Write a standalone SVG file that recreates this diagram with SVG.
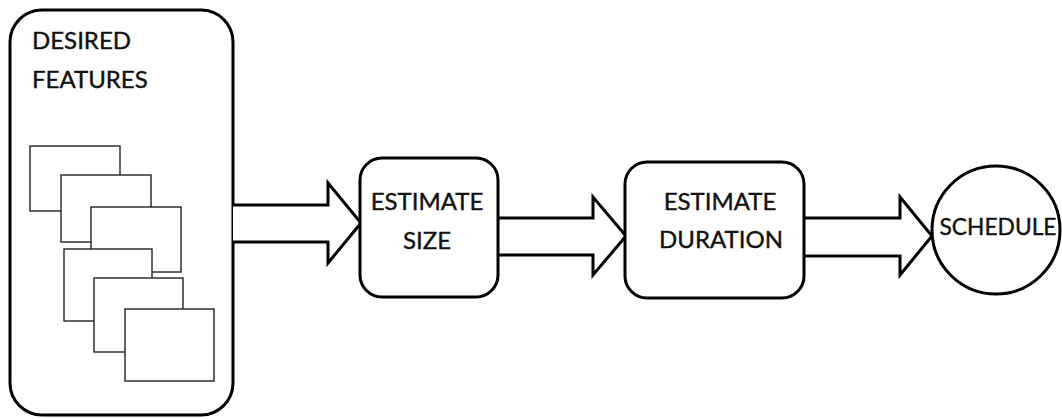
<svg xmlns="http://www.w3.org/2000/svg" width="1062" height="419" viewBox="0 0 1062 419">
<style>
.box{fill:#fff;stroke:#000;stroke-width:3}
.card{fill:#fff;stroke:#222;stroke-width:1.4}
.arr{fill:#fff;stroke:#000;stroke-width:3;stroke-linejoin:miter}
.t{font-family:Lato,"Open Sans","Liberation Sans",sans-serif;font-size:24px;fill:#111;stroke:#111;stroke-width:0.4}
.c{text-anchor:middle}
</style>
<rect width="1062" height="419" fill="#fff"/>
<g id="desired-features">
<rect class="box" x="10" y="10" width="223" height="405" rx="32" ry="32"/>
<text class="t" x="32" y="49">DESIRED</text>
<text class="t" x="32" y="88">FEATURES</text>
<rect class="card" x="30" y="146" width="90" height="65"/>
<rect class="card" x="61" y="175" width="90" height="67"/>
<rect class="card" x="91" y="207" width="90" height="65"/>
<rect class="card" x="64" y="249" width="88" height="72"/>
<rect class="card" x="94" y="278" width="89" height="74"/>
<rect class="card" x="125" y="309" width="89" height="72"/>
</g>
<g id="connectors">
<path class="arr" d="M233,205 H328 V183 L361,223 L328,263 V242 H233"/>
<path class="arr" d="M498,218 H593 V197 L626,236 L593,275 V255 H498"/>
<path class="arr" d="M804,218 H900 V197 L932,236 L900,275 V256 H804"/>
</g>
<g id="estimate-size">
<rect class="box" x="360" y="158" width="138" height="139" rx="22" ry="22"/>
<text class="t c" x="427" y="210">ESTIMATE</text>
<text class="t c" x="427" y="249">SIZE</text>
</g>
<g id="estimate-duration">
<rect class="box" x="625" y="162" width="179" height="136" rx="22" ry="22"/>
<text class="t c" x="720" y="210">ESTIMATE</text>
<text class="t c" x="721" y="248">DURATION</text>
</g>
<g id="schedule">
<circle class="box" cx="996" cy="230" r="64"/>
<text class="t c" x="998" y="235" textLength="117" lengthAdjust="spacingAndGlyphs">SCHEDULE</text>
</g>
</svg>
